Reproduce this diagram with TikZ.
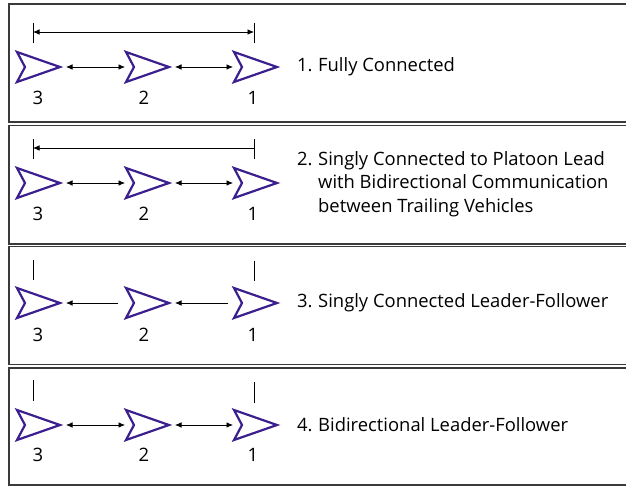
\documentclass[tikz,border=0pt]{standalone}
\usepackage{fontspec}
\setmainfont{Open Sans}
\usetikzlibrary{arrows.meta}
\definecolor{vehicle}{HTML}{3B1F8E}
\definecolor{frame}{HTML}{3A3A3A}
\tikzset{
  panel/.style={draw=frame, line width=1.3pt},
  veh/.style={draw=vehicle, line width=2.2pt, line join=miter},
  link/.style={line width=0.7pt, -{Latex[length=6.5pt,width=5.5pt]}},
  blink/.style={line width=0.7pt, {Latex[length=6.5pt,width=5.5pt]}-{Latex[length=6.5pt,width=5.5pt]}},
  bar/.style={line width=0.9pt},
  num/.style={font=\fontsize{18.5}{20}\selectfont, anchor=center},
  caption/.style={font=\fontsize{18.4}{23.5}\selectfont, anchor=west, align=left, inner sep=0pt},
}
\newcommand{\itemno}[1]{\makebox[21pt][l]{#1}}
% one vehicle glyph: notched chevron pointing right, left edge at #1
\newcommand{\vehicleat}[3]{%
  \draw[veh] (#1,#2-15) -- (#1+43,#2) -- (#1,#2+15) -- (#1+8,#2) -- cycle;
  \coordinate (#3-r) at (#1+49,#2);
  \coordinate (#3-l) at (#1-1,#2);
}
\begin{document}
\begin{tikzpicture}[x=1pt,y=-1pt]
\useasboundingbox (0,0) rectangle (626,487);
\clip (0,0) rectangle (626,487);

% panel frames
\draw[panel] (9,4) rectangle (640,122);
\draw[panel] (9,125.5) rectangle (640,244);
\draw[panel] (9,246.5) rectangle (640,364.5);
\draw[panel] (9,368) rectangle (640,485);

% ---- panel 1: fully connected
\vehicleat{17}{67}{a3}
\vehicleat{126}{67}{a2}
\vehicleat{234}{67}{a1}
\node[num] (a3n) at (38,98) {3};
\node[num] (a2n) at (144,98) {2};
\node[num] (a1n) at (253,98) {1};
\draw[blink] (a3-r) -- (a2-l);
\draw[blink] (a2-r) -- (a1-l);
\coordinate (a3t) at (33,23); \coordinate (a3b) at (33,43);
\coordinate (a1t) at (254,23); \coordinate (a1b) at (254,43);
\draw[bar] (a3t) -- (a3b);
\draw[bar] (a1t) -- (a1b);
\coordinate (a3m) at (33,32); \coordinate (a1m) at (254,32);
\draw[blink] (a3m) -- (a1m);
\node[caption] (a) at (297,67) {\itemno{1.}Fully Connected};

% ---- panel 2: singly connected to platoon lead
\vehicleat{17}{183}{b3}
\vehicleat{126}{183}{b2}
\vehicleat{234}{183}{b1}
\node[num] (b3n) at (38,214) {3};
\node[num] (b2n) at (144,214) {2};
\node[num] (b1n) at (253,214) {1};
\draw[blink] (b3-r) -- (b2-l);
\draw[blink] (b2-r) -- (b1-l);
\coordinate (b3t) at (33,139); \coordinate (b3b) at (33,159);
\coordinate (b1t) at (254,139); \coordinate (b1b) at (254,159);
\draw[bar] (b3t) -- (b3b);
\draw[bar] (b1t) -- (b1b);
\coordinate (b3m) at (33,148); \coordinate (b1m) at (254,148);
\draw[link] (b1m) -- (b3m);
\node[caption] (b) at (297,184) {\begin{tabular}{@{}l@{}l@{}}\itemno{2.} & Singly Connected to Platoon Lead\\
 & with Bidirectional Communication\\
 & between Trailing Vehicles\end{tabular}};

% ---- panel 3: singly connected leader-follower
\vehicleat{17}{303}{c3}
\vehicleat{126}{303}{c2}
\vehicleat{234}{303}{c1}
\node[num] (c3n) at (38,335) {3};
\node[num] (c2n) at (144,335) {2};
\node[num] (c1n) at (253,335) {1};
\coordinate (c2s) at (118,303); \coordinate (c1s) at (228,303);
\draw[link] (c2s) -- (c3-r);
\draw[link] (c1s) -- (c2-r);
\coordinate (c3t) at (33,260); \coordinate (c3b) at (33,280);
\coordinate (c1t) at (254,261); \coordinate (c1b) at (254,281);
\draw[bar] (c3t) -- (c3b);
\draw[bar] (c1t) -- (c1b);
\node[caption] (c) at (297,303) {\itemno{3.}Singly Connected Leader-Follower};

% ---- panel 4: bidirectional leader-follower
\vehicleat{17}{425}{d3}
\vehicleat{126}{425}{d2}
\vehicleat{234}{425}{d1}
\node[num] (d3n) at (38,455) {3};
\node[num] (d2n) at (144,455) {2};
\node[num] (d1n) at (253,455) {1};
\draw[blink] (d3-r) -- (d2-l);
\draw[blink] (d2-r) -- (d1-l);
\coordinate (d3t) at (33,380); \coordinate (d3b) at (33,401);
\coordinate (d1t) at (254,382); \coordinate (d1b) at (254,403);
\draw[bar] (d3t) -- (d3b);
\draw[bar] (d1t) -- (d1b);
\node[caption] (d) at (297,425) {\itemno{4.}Bidirectional Leader-Follower};
\end{tikzpicture}
\end{document}
